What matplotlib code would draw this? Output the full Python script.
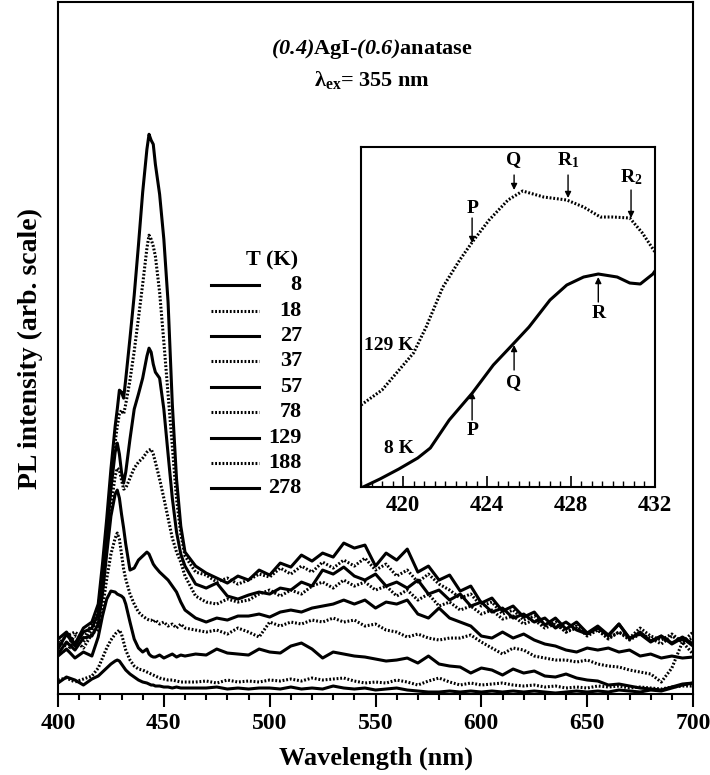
import matplotlib
matplotlib.use("Agg")
import matplotlib.pyplot as plt

plt.rcParams.update({
    'font.family': 'Liberation Serif',
    'font.weight': 'bold',
    'mathtext.fontset': 'custom',
    'mathtext.rm': 'Liberation Serif:weight=bold',
    'mathtext.it': 'Liberation Serif:style=italic:weight=bold',
    # \mathbf is used for the bold-italic composition numbers in the title
    'mathtext.bf': 'Liberation Serif:style=italic:weight=bold',
    'axes.linewidth': 1.5,
})

# wavelength grid (nm)
wavelength = [400, 404, 408, 412, 416, 419, 421, 423, 425, 427, 428, 429, 430, 431, 432,
              434, 436, 438, 440, 442, 443, 444, 445, 446, 448, 450, 452, 454, 456, 458, 460,
              465, 470, 475, 480, 485, 490, 495, 500, 505, 510, 515, 520, 525, 530, 535, 540,
              545, 550, 555, 560, 565, 570, 575, 580, 585, 590, 595, 600, 605, 610, 615, 620,
              625, 630, 635, 640, 645, 650, 655, 660, 665, 670, 675, 680, 685, 690, 695, 700]

temps = ['8', '18', '27', '37', '57', '78', '129', '188', '278']

pl_8K = [55, 62, 50, 66, 72, 90, 130, 175, 225, 268, 285, 304, 302, 296, 315,
         356, 399, 449, 502, 545, 560, 554, 550, 530, 500, 455, 392, 290, 215, 168, 142,
         128, 121, 116, 111, 118, 114, 124, 119, 131, 127, 139, 133, 141, 137, 151, 146,
         149, 128, 141, 134, 145, 122, 128, 114, 119, 103, 108, 91, 96, 83, 88, 77,
         82, 69, 76, 65, 72, 61, 68, 59, 70, 55, 62, 53, 58, 51, 57, 50]
pl_18K = [50, 58, 62, 55, 70, 85, 122, 165, 212, 252, 268, 280, 284, 280, 290,
          314, 343, 376, 410, 446, 459, 455, 448, 438, 402, 352, 300, 248, 195, 160, 138,
          122, 119, 112, 116, 110, 114, 120, 117, 126, 120, 128, 122, 132, 126, 134, 128,
          136, 124, 130, 118, 124, 112, 120, 110, 104, 96, 100, 88, 92, 80, 84, 74,
          78, 68, 72, 62, 68, 58, 64, 55, 62, 56, 66, 58, 54, 60, 52, 62]
pl_27K = [45, 60, 48, 62, 66, 80, 115, 160, 205, 242, 251, 240, 222, 211, 222,
          255, 285, 300, 316, 338, 346, 342, 330, 322, 316, 285, 240, 196, 162, 140, 128,
          110, 106, 111, 98, 95, 99, 102, 100, 106, 104, 112, 108, 124, 120, 127, 118,
          114, 120, 108, 112, 106, 114, 100, 104, 94, 100, 88, 92, 82, 86, 76, 80,
          72, 76, 66, 72, 64, 60, 66, 58, 70, 56, 60, 52, 58, 50, 56, 48]
pl_37K = [52, 48, 58, 52, 64, 75, 108, 148, 188, 218, 226, 224, 214, 205, 206,
          216, 226, 232, 236, 242, 244, 245, 240, 232, 215, 196, 176, 156, 142, 132, 118,
          98, 92, 90, 95, 92, 94, 100, 104, 98, 104, 100, 108, 112, 106, 114, 108,
          112, 104, 108, 98, 104, 94, 100, 88, 92, 84, 88, 80, 84, 75, 78, 70,
          74, 66, 70, 62, 66, 60, 64, 56, 62, 54, 60, 56, 50, 58, 52, 56]
pl_57K = [40, 52, 44, 56, 58, 70, 100, 140, 178, 200, 204, 196, 180, 166, 150,
          124, 126, 134, 138, 142, 140, 135, 130, 127, 122, 118, 114, 108, 102, 92, 84,
          76, 72, 76, 74, 78, 78, 80, 77, 82, 84, 82, 86, 88, 90, 94, 90,
          94, 86, 92, 90, 94, 80, 76, 86, 76, 72, 68, 58, 56, 62, 56, 60,
          54, 50, 48, 44, 42, 46, 44, 46, 42, 44, 38, 40, 36, 38, 36, 37]
pl_78K = [48, 42, 54, 46, 60, 65, 85, 115, 140, 156, 161, 155, 140, 125, 115,
          100, 90, 82, 78, 75, 74, 74, 72, 74, 70, 72, 68, 70, 66, 70, 66,
          64, 62, 64, 60, 66, 62, 57, 72, 68, 72, 70, 74, 72, 76, 72, 74,
          68, 70, 64, 62, 57, 60, 56, 54, 56, 56, 59, 52, 46, 40, 46, 44,
          38, 36, 34, 34, 32, 34, 30, 28, 27, 24, 22, 20, 12, 26, 52, 40]
pl_129K = [38, 45, 36, 42, 38, 57, 78, 95, 103, 102, 100, 99, 98, 96, 90,
           72, 55, 46, 42, 45, 40, 38, 37, 37, 39, 36, 38, 40, 37, 39, 38,
           40, 39, 45, 41, 40, 39, 45, 42, 41, 48, 51, 45, 36, 42, 40, 38,
           37, 35, 33, 34, 36, 31, 38, 30, 28, 27, 21, 26, 24, 19, 25, 21,
           23, 18, 17, 20, 16, 14, 13, 9, 10, 8, 6, 5, 4, 7, 10, 11]
pl_188K = [14, 16, 12, 15, 18, 26, 36, 46, 54, 60, 62, 64, 60, 52, 44,
           34, 28, 25, 24, 22, 21, 20, 19, 18, 16, 15, 14, 14, 13, 12, 12,
           12, 13, 11, 14, 12, 13, 12, 14, 13, 15, 13, 16, 14, 15, 16, 13,
           11, 12, 11, 14, 12, 9, 13, 16, 12, 9, 11, 9, 10, 11, 9, 8,
           9, 7, 8, 6, 7, 6, 8, 7, 8, 6, 7, 6, 5, 7, 8, 8]
pl_278K = [11, 17, 14, 9, 15, 18, 22, 26, 30, 33, 34, 33, 30, 27, 24,
           20, 17, 14, 12, 11, 10, 9, 9, 8, 8, 7, 7, 6, 7, 6, 6,
           6, 6, 7, 5, 6, 5, 6, 6, 5, 7, 5, 6, 5, 8, 6, 5,
           6, 4, 5, 6, 4, 3, 2, 2, 3, 2, 3, 2, 3, 2, 3, 2,
           3, 2, 1, 2, 3, 2, 3, 2, 4, 3, 2, 4, 3, 6, 9, 11]

spectra = [pl_8K, pl_18K, pl_27K, pl_37K, pl_57K, pl_78K, pl_129K, pl_188K, pl_278K]

# inset: zoom of the 420 nm region
inset_wl_8K = [418.1, 418.9, 419.8, 420.7, 421.3, 422.2, 423.3, 424.3, 425.2, 426.0,
               427.0, 427.8, 428.6, 429.3, 430.2, 430.8, 431.3, 431.9, 432.0]
inset_8K = [0, 8, 18, 29, 39, 67, 94, 122, 142, 160,
            187, 202, 210, 213, 210, 204, 203, 213, 216]
inset_wl_129K = [418.0, 419.0, 420.5, 421.1, 421.9, 422.7, 423.3, 424.1, 425.0, 425.7,
                 426.7, 427.8, 428.6, 429.4, 430.0, 430.8, 431.4, 432.0]
inset_129K = [82, 97, 134, 160, 200, 227, 245, 267, 287, 296,
              290, 287, 280, 270, 270, 269, 254, 235]

SOLID = '-'
DOTTED = (0, (0.6, 0.6))

fig = plt.figure(figsize=(7.1, 7.75), dpi=100)
ax = fig.add_axes([0.0817, 0.1045, 0.8944, 0.8925])

for i, (t, y) in enumerate(zip(temps, spectra)):
    ls = SOLID if i % 2 == 0 else DOTTED
    ax.plot(wavelength, y, color='black', lw=2.2, ls=ls)

ax.set_xlim(400, 700)
ax.set_ylim(0, 692)
ax.set_yticks([])
ax.set_xticks(range(400, 701, 50))
ax.set_xticks(range(400, 701, 10), minor=True)
ax.tick_params(axis='x', which='major', direction='out', length=9, width=1.5,
               labelsize=17, pad=5)
ax.tick_params(axis='x', which='minor', direction='out', length=4.5, width=1.5)
ax.set_xlabel('Wavelength (nm)', fontsize=19, fontweight='bold', labelpad=9)
ax.set_ylabel('PL intensity (arb. scale)', fontsize=20, fontweight='bold', labelpad=11)

ax.text(0.494, 0.933, r'$\mathbf{(0.4)}$AgI-$\mathbf{(0.6)}$anatase', transform=ax.transAxes,
        ha='center', va='center', fontsize=16)
ax.text(0.494, 0.887, r'λ$_{\mathrm{ex}}$= 355 nm', transform=ax.transAxes,
        ha='center', va='center', fontsize=16)

# legend drawn by hand: line sample + right aligned temperature
ax.text(0.337, 0.627, 'T (K)', transform=ax.transAxes, ha='center', va='center', fontsize=16)
for i, t in enumerate(temps):
    yy = (694 - (285 + 25.4 * i)) / 692
    ls = SOLID if i % 2 == 0 else DOTTED
    ax.plot([0.241, 0.3165], [yy, yy], transform=ax.transAxes, color='black', lw=2.2, ls=ls)
    ax.text(0.384, yy, t, transform=ax.transAxes, ha='right', va='center', fontsize=16)

# inset
axin = fig.add_axes([0.5085, 0.3716, 0.414, 0.4387])
axin.plot(inset_wl_129K, inset_129K, color='black', lw=2.2, ls=DOTTED)
axin.plot(inset_wl_8K, inset_8K, color='black', lw=2.2, ls=SOLID)
axin.set_xlim(418, 432)
axin.set_ylim(0, 340)
axin.set_yticks([])
axin.set_xticks([420, 424, 428, 432])
axin.set_xticks([418 + 0.5 * k for k in range(29)], minor=True)
axin.tick_params(axis='x', which='major', direction='in', length=8, width=1.2,
                 labelsize=16.5, pad=6)
axin.tick_params(axis='x', which='minor', direction='in', length=4, width=1.0)

arrow = dict(arrowstyle='-|>', lw=1.0, color='black', mutation_scale=9, shrinkA=0, shrinkB=0)
# 129 K features (arrows pointing down)
for lab, x, ytxt, y0, y1 in [('P', 423.29, 279, 269, 244), ('Q', 425.29, 327, 312, 297),
                             ('R$_1$', 427.86, 327, 312, 289), ('R$_2$', 430.86, 310, 297, 269)]:
    axin.annotate('', xy=(x, y1), xytext=(x, y0), arrowprops=arrow)
    axin.text(x, ytxt, lab, ha='center', va='center', fontsize=14)
# 8 K features (arrows pointing up)
for lab, x, ytxt, y0, y1 in [('P', 423.29, 57, 67, 95), ('Q', 425.29, 104, 117, 142),
                             ('R', 429.3, 174, 185, 210)]:
    axin.annotate('', xy=(x, y1), xytext=(x, y0), arrowprops=arrow)
    axin.text(x, ytxt, lab, ha='center', va='center', fontsize=14)
axin.text(419.3, 142, '129 K', ha='center', va='center', fontsize=14)
axin.text(419.8, 39, '8 K', ha='center', va='center', fontsize=14)

fig.savefig('out.png', dpi=100)
